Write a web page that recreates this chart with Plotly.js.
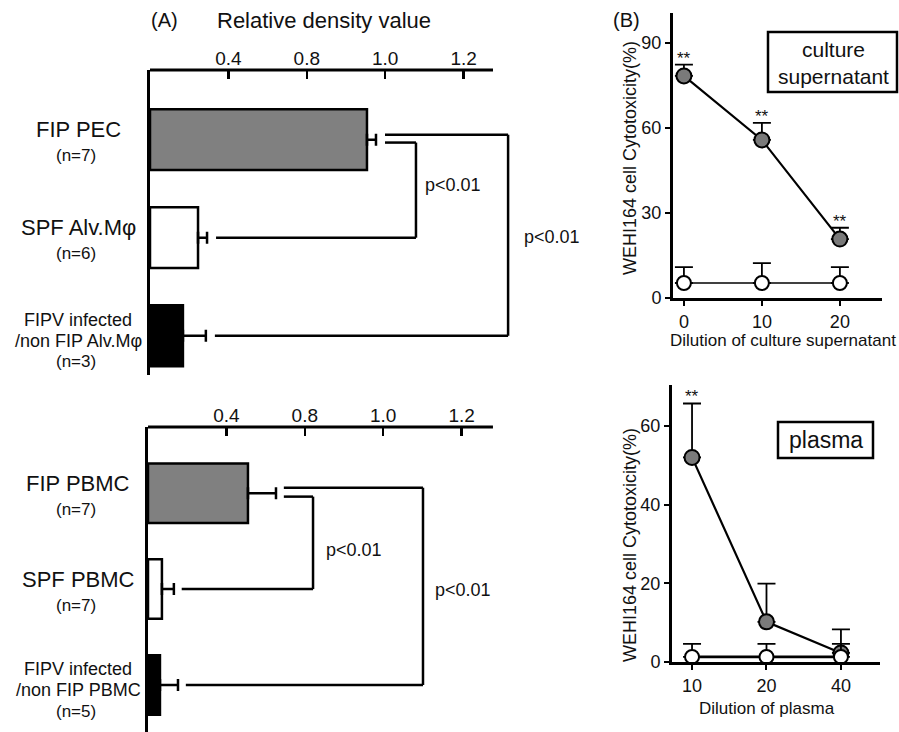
<!DOCTYPE html>
<html><head><meta charset="utf-8">
<script src="https://cdn.plot.ly/plotly-3.0.1.min.js"></script>
<style>html,body{margin:0;padding:0;background:#fff}#chart{width:899px;height:732px}</style>
</head><body><div id="chart"></div>
<script>
// ---------- Panel A, top: relative density (PEC / Alv.M) ----------
const catA1 = ["FIP PEC", "SPF Alv.Mφ", "FIPV infected<br>/non FIP Alv.Mφ"];
const nA1 = [7, 6, 3];
const valA1 = [1.107, 0.245, 0.168];
const errA1 = [0.046, 0.046, 0.117];
// ---------- Panel A, bottom: relative density (PBMC) ----------
const catA2 = ["FIP PBMC", "SPF PBMC", "FIPV infected<br>/non FIP PBMC"];
const nA2 = [7, 7, 5];
const valA2 = [0.51, 0.071, 0.061];
const errA2 = [0.143, 0.061, 0.092];
const fillA = ["#808080", "#ffffff", "#000000"];
const densTickVals = [0.4, 0.8, 1.2, 1.6];
const densTickText = ["0.4", "0.8", "1.0", "1.2"];
const pLabel = "p<0.01";

// ---------- Panel B, top: culture supernatant ----------
const dilSup = [0, 10, 20];
const supFIP = [78.4, 55.8, 20.8];
const supFIPErr = [4.0, 6.0, 4.0];
const supCtrl = [5.3, 5.3, 5.3];
const supCtrlErr = [5.6, 7.0, 5.6];
const supSig = ["**", "**", "**"];
// ---------- Panel B, bottom: plasma ----------
const dilPla = [10, 20, 40];
const plaFIP = [52.0, 10.2, 2.3];
const plaFIPErr = [13.7, 9.7, 6.0];
const plaCtrl = [1.3, 1.3, 1.3];
const plaCtrlErr = [3.3, 3.3, 3.3];
const plaSig = ["**", "", ""];

const W = 899, H = 732;
const px = x => x / W;
const py = y => 1 - y / H;
const FONT = "Liberation Sans, Arial, sans-serif";
const INK = "#111";

function barTrace(cats, vals, errs, xa, ya) {
  return {
    type: "bar", orientation: "h", y: cats, x: vals, xaxis: xa, yaxis: ya,
    width: 0.62,
    marker: {color: fillA, line: {color: "#000", width: 2.5}},
    error_x: {type: "data", symmetric: false, array: errs, arrayminus: errs.map(() => 0),
              color: "#000", thickness: 2.5, width: 6},
    hoverinfo: "x+y"
  };
}
function lineTrace(x, y, err, xa, ya, fill, size, lw) {
  return {
    type: "scatter", mode: "lines+markers", x: x, y: y, xaxis: xa, yaxis: ya,
    cliponaxis: false,
    line: {color: "#000", width: lw},
    marker: {color: fill, size: size, line: {color: "#000", width: 2}},
    error_y: {type: "data", symmetric: false, array: err, arrayminus: err.map(() => 0),
              color: "#000", thickness: 1.8, width: 9}
  };
}

const data = [
  barTrace(catA1, valA1, errA1, "x", "y"),
  barTrace(catA2, valA2, errA2, "x2", "y2"),
  lineTrace(dilSup, supFIP, supFIPErr, "x3", "y3", "#7a7a7a", 15, 2.2),
  lineTrace(dilSup, supCtrl, supCtrlErr, "x3", "y3", "#ffffff", 14, 1.6),
  lineTrace(dilPla, plaFIP, plaFIPErr, "x4", "y4", "#7a7a7a", 15, 2.2),
  lineTrace(dilPla, plaCtrl, plaCtrlErr, "x4", "y4", "#ffffff", 14, 2.6)
];

const shapes = [];
const annotations = [];

function ann(o) {
  annotations.push(Object.assign({showarrow: false, xanchor: "center", yanchor: "middle",
    font: {family: FONT, size: 18, color: INK}}, o));
}

// ----- bar-panel helpers -----
function categoryLabels(cats, ns, ya) {
  cats.forEach((c, i) => {
    const lines = c.split("<br>");
    const big = lines.length === 1;
    const offs = big ? [-10] : [-16, 5];
    lines.forEach((ln, j) => {
      ann({xref: "paper", yref: ya, x: px(78), y: i,
           text: ln, yshift: -offs[j], font: {family: FONT, size: big ? 22 : 18, color: INK}});
    });
    ann({xref: "paper", yref: ya, x: px(76), y: i,
         text: "(n=" + ns[i] + ")", yshift: big ? -16 : -26, font: {family: FONT, size: 17, color: INK}});
  });
}
function bracket(xa, ya, vals, errs, iTop, iLow, dyTop, xv, gap) {
  const x0 = vals[iTop] + errs[iTop] + gap;
  const x2 = vals[iLow] + errs[iLow] + gap;
  const yT = iTop + dyTop, yL = iLow;
  const L = {color: "#000", width: 2.5};
  shapes.push({type: "line", xref: xa, yref: ya, x0: x0, x1: xv, y0: yT, y1: yT, line: L});
  shapes.push({type: "line", xref: xa, yref: ya, x0: xv, x1: xv, y0: yT, y1: yL, line: L});
  shapes.push({type: "line", xref: xa, yref: ya, x0: xv, x1: x2, y0: yL, y1: yL, line: L});
}

// top bar panel
categoryLabels(catA1, nA1, "y");
bracket("x", "y", valA1, errA1, 0, 1, 0.03, 1.357, 0.046);
bracket("x", "y", valA1, errA1, 0, 2, -0.05, 1.827, 0.046);
ann({xref: "x", yref: "y", x: 1.393, y: 0.464, xanchor: "left", text: pLabel});
ann({xref: "x", yref: "y", x: 1.898, y: 0.995, xanchor: "left", text: pLabel});
shapes.push({type: "line", xref: "x", yref: "paper", x0: 0, x1: 1.75, y0: py(70), y1: py(70),
             line: {color: "#000", width: 3}});
// bottom bar panel
categoryLabels(catA2, nA2, "y2");
bracket("x2", "y2", valA2, errA2, 0, 1, 0.036, 0.842, 0.04);
bracket("x2", "y2", valA2, errA2, 0, 2, -0.057, 1.403, 0.04);
ann({xref: "x2", yref: "y2", x: 0.898, y: 0.589, xanchor: "left", text: pLabel});
ann({xref: "x2", yref: "y2", x: 1.454, y: 1.005, xanchor: "left", text: pLabel});
shapes.push({type: "line", xref: "x2", yref: "paper", x0: 0, x1: 1.76, y0: py(427), y1: py(427),
             line: {color: "#000", width: 3}});

// titles panel A
ann({xref: "paper", yref: "paper", x: px(164), y: py(20), text: "(A)", font: {family: FONT, size: 20, color: INK}});
ann({xref: "paper", yref: "paper", x: px(324), y: py(20), text: "Relative density value", font: {family: FONT, size: 22, color: INK}});

// ----- panel B -----
ann({xref: "paper", yref: "paper", x: px(626), y: py(20), text: "(B)", font: {family: FONT, size: 20, color: INK}});
supSig.forEach((s, i) => { if (s) ann({xref: "x3", yref: "y3", x: dilSup[i], y: supFIP[i] + supFIPErr[i],
  yanchor: "bottom", yshift: -5, text: s, font: {family: FONT, size: 17, color: INK}}); });
plaSig.forEach((s, i) => { if (s) ann({xref: "x4", yref: "y4", x: Math.log10(dilPla[i]), y: plaFIP[i] + plaFIPErr[i],
  yanchor: "bottom", yshift: -5, text: s, font: {family: FONT, size: 17, color: INK}}); });

ann({xref: "paper", yref: "paper", x: px(630), y: py(158), textangle: -90,
     text: "WEHI164 cell Cytotoxicity(%)", font: {family: FONT, size: 18, color: INK}});
ann({xref: "paper", yref: "paper", x: px(630), y: py(545), textangle: -90,
     text: "WEHI164 cell Cytotoxicity(%)", font: {family: FONT, size: 18, color: INK}});
ann({xref: "paper", yref: "paper", x: px(783), y: py(340),
     text: "Dilution of culture supernatant", font: {family: FONT, size: 17, color: INK}});
ann({xref: "paper", yref: "paper", x: px(767), y: py(708),
     text: "Dilution of plasma", font: {family: FONT, size: 17, color: INK}});

shapes.push({type: "rect", xref: "paper", yref: "paper", x0: px(768), x1: px(897), y0: py(92), y1: py(32),
             line: {color: "#000", width: 2.5}, fillcolor: "#fff"});
ann({xref: "paper", yref: "paper", x: px(833), y: py(50), text: "culture", font: {family: FONT, size: 21, color: INK}});
ann({xref: "paper", yref: "paper", x: px(833), y: py(76), text: "supernatant", font: {family: FONT, size: 21, color: INK}});
shapes.push({type: "rect", xref: "paper", yref: "paper", x0: px(778), x1: px(873), y0: py(458), y1: py(422),
             line: {color: "#000", width: 2.5}, fillcolor: "#fff"});
ann({xref: "paper", yref: "paper", x: px(825.5), y: py(440), text: "plasma", font: {family: FONT, size: 23, color: INK}});

const tickFont = {family: FONT, size: 19, color: INK};
const tickFontB = {family: FONT, size: 18, color: INK};
const barX = (dom, anchor) => ({
  domain: dom, range: [0, 2.0], side: "top", anchor: anchor,
  tickmode: "array", tickvals: densTickVals, ticktext: densTickText,
  ticks: "inside", ticklen: 9, tickwidth: 2.5, tickcolor: "#000",
  showline: false, showgrid: false, zeroline: false, tickfont: tickFont, fixedrange: true
});
const barY = (dom, rng, anchor) => ({
  domain: dom, range: rng, anchor: anchor, type: "category",
  showline: true, linecolor: "#000", linewidth: 3, ticks: "", showticklabels: false,
  showgrid: false, zeroline: false, fixedrange: true
});

const layout = {
  width: W, height: H,
  margin: {l: 0, r: 0, t: 0, b: 0},
  paper_bgcolor: "#fff", plot_bgcolor: "rgba(0,0,0,0)",
  showlegend: false,
  font: {family: FONT, color: INK},
  xaxis: barX([px(150), px(542)], "y"),
  yaxis: barY([py(375), py(70)], [2.4, -0.71], "x"),
  xaxis2: barX([px(148), px(540)], "y2"),
  yaxis2: barY([0, py(427)], [2.49, -0.69], "x2"),
  xaxis3: {
    domain: [px(673), px(882)], anchor: "y3", range: [-1.4, 25.4],
    tickmode: "array", tickvals: dilSup, ticktext: dilSup.map(String),
    ticks: "outside", ticklen: 5, tickwidth: 2, tickcolor: "#000",
    showline: true, linecolor: "#000", linewidth: 3, showgrid: false, zeroline: false,
    tickfont: tickFontB, fixedrange: true
  },
  yaxis3: {
    domain: [py(298), py(13)], anchor: "x3", range: [0, 100.6],
    tickmode: "array", tickvals: [0, 30, 60, 90],
    ticks: "outside", ticklen: 5, tickwidth: 2, tickcolor: "#000",
    showline: true, linecolor: "#000", linewidth: 3, showgrid: false, zeroline: false,
    tickfont: tickFontB, fixedrange: true
  },
  xaxis4: {
    domain: [px(672), px(880)], anchor: "y4", type: "log", range: [0.919, 1.760],
    tickmode: "array", tickvals: dilPla, ticktext: dilPla.map(String),
    ticks: "outside", ticklen: 5, tickwidth: 2, tickcolor: "#000",
    showline: true, linecolor: "#000", linewidth: 3, showgrid: false, zeroline: false,
    tickfont: tickFontB, fixedrange: true
  },
  yaxis4: {
    domain: [py(662), py(385)], anchor: "x4", range: [0, 70.4],
    tickmode: "array", tickvals: [0, 20, 40, 60],
    ticks: "outside", ticklen: 5, tickwidth: 2, tickcolor: "#000",
    showline: true, linecolor: "#000", linewidth: 3, showgrid: false, zeroline: false,
    tickfont: tickFontB, fixedrange: true
  },
  shapes: shapes,
  annotations: annotations
};

Plotly.newPlot("chart", data, layout, {displayModeBar: false, staticPlot: true});
</script></body></html>
